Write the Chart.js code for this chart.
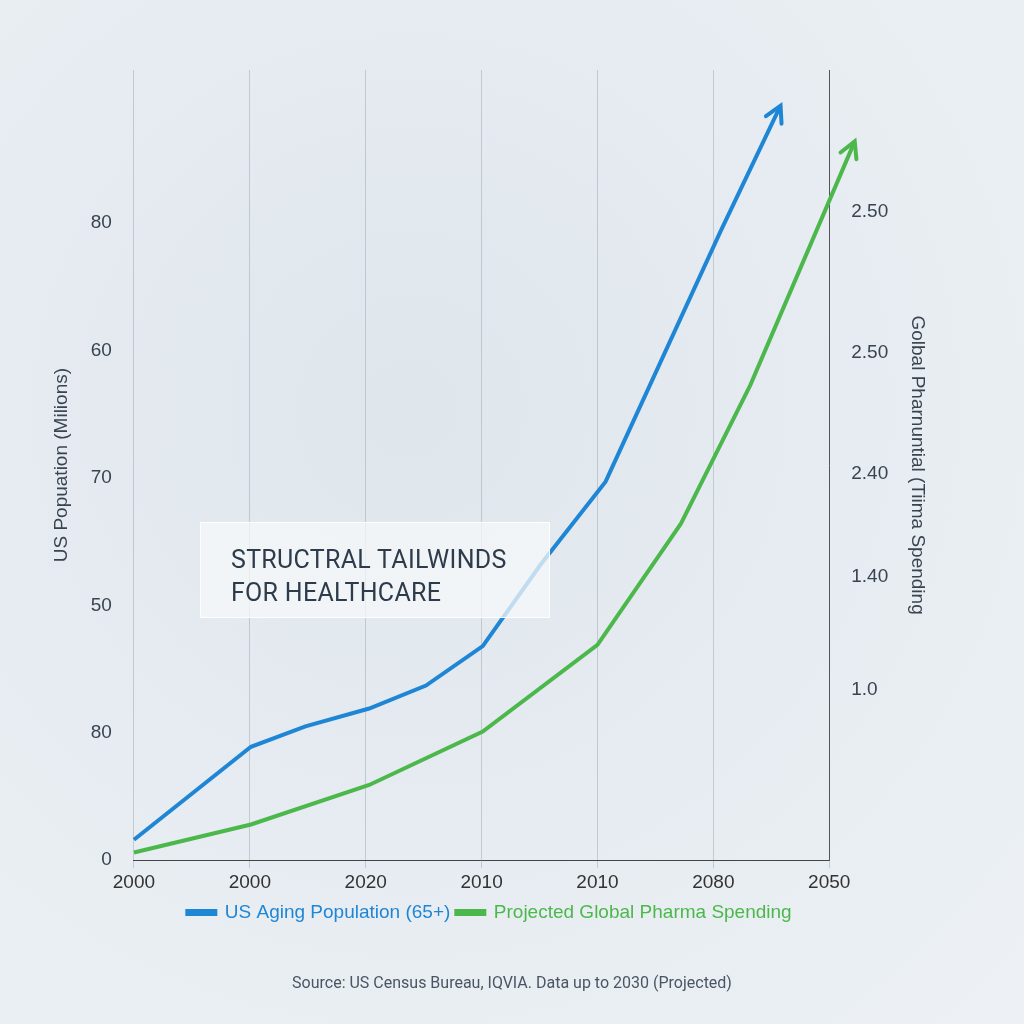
<!DOCTYPE html>
<html><head><meta charset="utf-8">
<script src="https://cdn.jsdelivr.net/npm/chart.js@4"></script>
<style>
body{margin:0;width:1024px;height:1024px;overflow:hidden;font-family:Roboto,"Open Sans",sans-serif;
 background:radial-gradient(ellipse at 40% 40%,#dfe6ec 0%,#e6ecf1 50%,#edf1f5 100%);}
#wrap{position:absolute;left:0;top:0;width:1024px;height:1024px}
#box{position:absolute;left:200px;top:522px;width:350px;height:96px;background:rgba(245,248,250,0.75);
 border:1px solid rgba(255,255,255,0.9);box-sizing:border-box;padding:20px 30px;font-size:25px;line-height:33px;color:#2e3b4a;letter-spacing:0.3px}
#src{position:absolute;left:0;width:1024px;top:973px;text-align:center;font-size:16px;color:#4a5563}
</style></head><body>
<div id="wrap"><canvas id="c" width="1024" height="1024"></canvas></div>
<div id="box">STRUCTRAL TAILWINDS<br>FOR HEALTHCARE</div>
<div id="src">Source: US Census Bureau, IQVIA. Data up to 2030 (Projected)</div>
<script>
// --- données ---
const xLabels = ['2000','2000','2020','2010','2010','2080','2050'];
const leftLabels = ['0','80','50','70','60','80'];
const rightTicks = [1.34, 2.22, 3.03, 3.98, 5.09];
const rightLabels = ['1.0','1.40','2.40','2.50','2.50'];
const agingX = [0,1.01,1.48,2.03,2.52,3.01,3.51,4.07,4.54,5.06,5.58];
const agingY = [0.16,0.89,1.05,1.19,1.37,1.68,2.32,2.97,3.9,4.93,5.92];
const pharmaX = [0,1.01,2.03,3.01,4.0,4.72,5.32,6.22];
const pharmaY = [0.06,0.28,0.59,1.01,1.69,2.64,3.73,5.64];

const blue = '#1f86d6', green = '#4cb84c';

// flèches en bout de courbe
const arrows = {
  id:'arrows',
  afterDatasetsDraw(chart){
    const ctx = chart.ctx;
    chart.data.datasets.forEach((ds,i)=>{
      const pts = chart.getDatasetMeta(i).data;
      const a = pts[pts.length-2], b = pts[pts.length-1];
      const ang = Math.atan2(b.y-a.y, b.x-a.x);
      ctx.save();
      ctx.strokeStyle = ds.borderColor; ctx.lineWidth = 4; ctx.lineCap='round';
      ctx.beginPath();
      ctx.moveTo(b.x-18*Math.cos(ang-0.5), b.y-18*Math.sin(ang-0.5));
      ctx.lineTo(b.x,b.y);
      ctx.lineTo(b.x-18*Math.cos(ang+0.5), b.y-18*Math.sin(ang+0.5));
      ctx.stroke();
      ctx.restore();
    });
  }
};

new Chart(document.getElementById('c').getContext('2d'), {
  type:'line',
  data:{datasets:[
    {label:'US Aging Population (65+)', data:agingX.map((x,i)=>({x,y:agingY[i]})), borderColor:blue, backgroundColor:blue, borderWidth:4, pointRadius:0, tension:0, clip:false},
    {label:'Projected Global Pharma Spending', data:pharmaX.map((x,i)=>({x,y:pharmaY[i]})), borderColor:green, backgroundColor:green, borderWidth:4, pointRadius:0, tension:0, clip:false}
  ]},
  plugins:[arrows],
  options:{
    responsive:false, animation:false,
    layout:{padding:{left:46,right:91,top:70,bottom:92}},
    plugins:{
      legend:{position:'bottom', labels:{boxWidth:28, boxHeight:3, padding:6, font:{size:19},
        generateLabels:c=>Chart.defaults.plugins.legend.labels.generateLabels(c).map(l=>({...l, fontColor:l.strokeStyle}))}},
      tooltip:{enabled:false}
    },
    scales:{
      x:{type:'linear', min:0, max:6, grid:{color:'rgba(150,160,170,0.45)', drawTicks:true, tickLength:8},
         border:{color:'#444'},
         afterBuildTicks:s=>{s.ticks=xLabels.map((_,i)=>({value:i}));},
         ticks:{color:'#333', font:{size:19}, callback:v=>xLabels[v]}},
      y:{min:0, max:6.2, position:'left', grid:{display:false}, border:{display:false},
         afterBuildTicks:s=>{s.ticks=leftLabels.map((_,i)=>({value:i}));},
         ticks:{color:'#3a4450', font:{size:19}, padding:14, callback:v=>leftLabels[v]},
         title:{display:true, text:'US Popuation (Milions)', color:'#3a4450', font:{size:19}}},
      y1:{min:0, max:6.2, position:'right', grid:{display:false}, border:{display:true,color:'#555'},
         afterBuildTicks:s=>{s.ticks=rightTicks.map(v=>({value:v}));},
         ticks:{color:'#3a4450', font:{size:19}, padding:14, callback:(v,i)=>rightLabels[i]},
         title:{display:true, text:'Golbal Pharnuntial (Tiima Spending', color:'#3a4450', font:{size:19}}}
    }
  }
});
</script>
</body></html>
